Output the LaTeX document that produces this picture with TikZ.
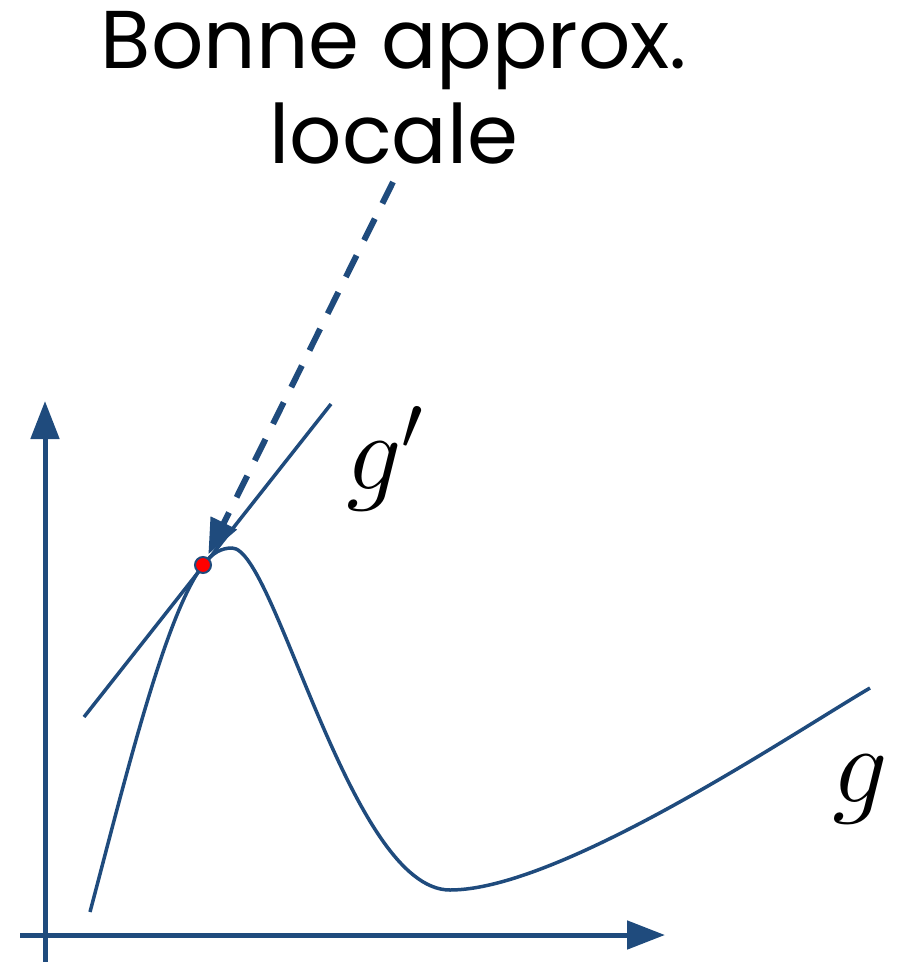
\documentclass[tikz,border=0pt]{standalone}
\usepackage{fix-cm}
\usepackage{fontspec}
\newfontfamily\titrefont{Poppins}
\usetikzlibrary{arrows.meta}

\definecolor{bleu}{RGB}{31,75,125}

\begin{document}
\begin{tikzpicture}[
    x=1pt, y=-1pt,
    axe/.style={
      draw=bleu,
      line width=5pt,
      -{Triangle[width=28pt,length=38pt]}
    },
    courbe/.style={draw=bleu, line width=3.5pt},
    fleche/.style={
      draw=bleu,
      line width=6pt,
      dash pattern=on 24pt off 17pt,
      -{Triangle[width=28pt,length=35pt]}
    },
    etiquette/.style={inner sep=0pt, font=\fontsize{110}{110}\selectfont},
    >=Latex
  ]
    \useasboundingbox (0,0) rectangle (897,962);

    \node[font=\titrefont\fontsize{82}{95}\selectfont, align=center, anchor=base] (titre) at (394,163)
      {Bonne approx.\\locale};

    % axes
    \coordinate (ybas) at (45,962);
    \coordinate (yhaut) at (45,401);
    \coordinate (xgauche) at (20,935);
    \coordinate (xdroite) at (665,935);
    \draw[axe] (ybas) -- (yhaut);
    \draw[axe] (xgauche) -- (xdroite);

    % courbe g et tangente g'
    \coordinate (pt) at (203,565);
    \coordinate (tgbas) at (84,717);
    \coordinate (tghaut) at (331,404);
    \draw[courbe] (tgbas) -- (tghaut);
    \draw[courbe] (90,912) .. controls (125,780) and (165,615) .. (pt)
      .. controls (213,552) and (222,548) .. (232,548)
      .. controls (275,548) and (350,890) .. (450,890)
      .. controls (560,890) and (790,735) .. (870,688);

    \node[etiquette, anchor=base west] (gprime) at (346,489) {$g'$};
    \node[etiquette, anchor=base west] (glabel) at (832,802) {$g$};

    \coordinate (depart) at (393,182);
    \draw[fleche, shorten >=12pt] (depart) -- (pt);

    \filldraw[fill=red, draw=bleu, line width=2pt] (pt) circle[radius=8pt];
  \end{tikzpicture}
\end{document}
